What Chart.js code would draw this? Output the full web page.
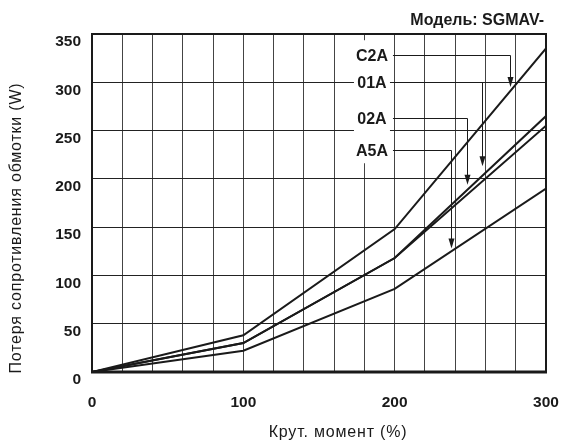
<!DOCTYPE html>
<html>
<head>
<meta charset="utf-8">
<script src="https://cdn.jsdelivr.net/npm/chart.js@4.4.1/dist/chart.umd.min.js"></script>
<style>
  html, body { margin: 0; padding: 0; background: #fff; }
  #wrap { width: 563px; height: 441px; }
</style>
</head>
<body>
<div id="wrap"><canvas id="my_chart"></canvas></div>
<script>
(function () {
  'use strict';

  // 横軸 (トルク %)
  const torque = [0, 100, 200, 300];

  // 各モデルの損失 (W)
  const lossC2A = [0, 38, 148, 335];
  const loss01A = [0, 30, 118, 265];
  const loss02A = [0, 30, 118, 255];
  const lossA5A = [0, 22, 86, 190];

  // 引き出し線 {name, label y, arrow x, arrow tip y}
  const callNames = ['C2A', '01A', '02A', 'A5A'];
  const callLabelY = [328, 300, 263, 230];
  const callArrowX = [276, 258, 248, 237];
  const callTipY = [295, 213, 194, 128];
  const callLabelX = 185;

  const yTicks = [0, 50, 100, 150, 200, 250, 300, 350];
  const xTicks = [0, 100, 200, 300];

  const FONT = '"Liberation Sans", Arial, Helvetica, sans-serif';
  const INK = '#1a1a1a';

  const series = [loss01A, loss02A, lossC2A, lossA5A];
  const datasets = series.map(function (s) {
    return {
      data: torque.map(function (t, i) { return { x: t, y: s[i] }; }),
      borderColor: INK,
      borderWidth: 2,
      pointRadius: 0,
      tension: 0,
      fill: false,
    };
  });

  // 枠・タイトル・引き出し線
  const decor = {
    id: 'decor',
    afterDatasetsDraw: function (chart) {
      const c = chart.ctx;
      const a = chart.chartArea;
      const sx = chart.scales.x;
      const sy = chart.scales.y;
      c.save();

      // ラベル背景
      const lx = sx.getPixelForValue(callLabelX);
      c.fillStyle = '#fff';
      c.fillRect(lx - 18, sy.getPixelForValue(callLabelY[0]) - 15, 36, 123);

      c.font = 'bold 16px ' + FONT;
      c.textAlign = 'center';
      c.textBaseline = 'middle';
      for (let i = 0; i < callNames.length; i++) {
        const y = Math.round(sy.getPixelForValue(callLabelY[i])) + 0.5;
        const ax = Math.round(sx.getPixelForValue(callArrowX[i])) + 0.5;
        const ty = sy.getPixelForValue(callTipY[i]);
        c.fillStyle = INK;
        c.fillText(callNames[i], lx, y + 1);
        c.strokeStyle = INK;
        c.lineWidth = 1;
        c.beginPath();
        c.moveTo(lx + 21, y);
        c.lineTo(ax, y);
        c.lineTo(ax, ty - 6);
        c.stroke();
        c.beginPath();
        c.moveTo(ax, ty);
        c.lineTo(ax - 3, ty - 10);
        c.lineTo(ax + 3, ty - 10);
        c.closePath();
        c.fill();
      }

      // 外枠
      c.strokeStyle = INK;
      c.lineWidth = 2;
      c.strokeRect(a.left, a.top, a.right - a.left, a.bottom - a.top);
      c.lineWidth = 3;
      c.beginPath();
      c.moveTo(a.left - 1, a.bottom);
      c.lineTo(a.right + 1, a.bottom);
      c.stroke();

      // タイトル類
      c.fillStyle = INK;
      c.font = 'bold 16px ' + FONT;
      c.textAlign = 'right';
      c.fillText('Модель: SGMAV-', a.right - 2, 21);

      c.font = '16px ' + FONT;
      c.letterSpacing = '0.8px';
      c.textAlign = 'center';
      c.fillText('Крут. момент (%)', 338, 433);

      c.translate(17, 228);
      c.rotate(-Math.PI / 2);
      c.fillText('Потеря сопротивления обмотки (W)', 0, 0);
      c.restore();
    }
  };

  const ctx = document.getElementById('my_chart').getContext('2d');

  new Chart(ctx, {
    type: 'line',
    data: { datasets: datasets },
    plugins: [decor],
    options: {
      responsive: true,
      maintainAspectRatio: false,
      animation: false,
      layout: { padding: { top: 34, right: 17, left: 0, bottom: 0 } },
      plugins: { legend: { display: false }, tooltip: { enabled: false } },
      scales: {
        x: {
          type: 'linear',
          min: 0,
          max: 300,
          afterFit: function (s) {
            s.height = 69;
            s.paddingLeft = 0;
            s.paddingRight = 0;
          },
          afterBuildTicks: function (s) {
            const t = [];
            for (let v = 0; v <= 300; v += 20) t.push({ value: v });
            s.ticks = t;
          },
          border: { display: false },
          grid: { color: '#444', lineWidth: 1, drawTicks: false },
          ticks: {
            autoSkip: false,
            maxRotation: 0,
            padding: 21,
            color: INK,
            font: { family: FONT, size: 15.5, weight: 'bold' },
            callback: function (v) { return xTicks.indexOf(v) >= 0 ? String(v) : ''; }
          }
        },
        y: {
          type: 'linear',
          min: 0,
          max: 350,
          afterFit: function (s) {
            s.width = 92;
            s.paddingTop = 0;
            s.paddingBottom = 0;
          },
          afterBuildTicks: function (s) {
            s.ticks = yTicks.map(function (v) { return { value: v }; });
          },
          border: { display: false },
          grid: { color: '#222', lineWidth: 1, drawTicks: false },
          ticks: {
            padding: 11,
            labelOffset: 8,
            color: INK,
            font: { family: FONT, size: 15.5, weight: 'bold' }
          }
        }
      }
    }
  });
})();
</script>
</body>
</html>
